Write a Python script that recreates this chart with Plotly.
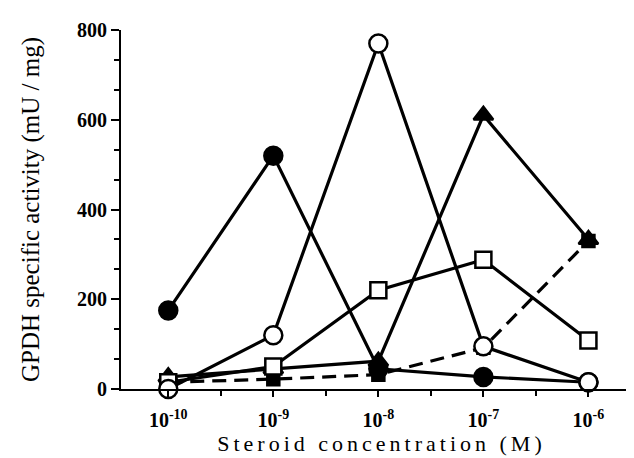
import plotly.graph_objects as go

# Data
conc = [1e-10, 1e-9, 1e-8, 1e-7, 1e-6]
tick_text = ["10<sup>-10</sup>", "10<sup>-9</sup>", "10<sup>-8</sup>", "10<sup>-7</sup>", "10<sup>-6</sup>"]
filled_square = [15, 22, 32, 92, 330]
filled_triangle = [27, 45, 62, 610, 333]
filled_circle = [175, 520, 45, 27, 15]
open_square = [15, 50, 220, 288, 108]
open_circle = [0, 120, 770, 95, 15]

half_decades = [3.1623e-10, 3.1623e-9, 3.1623e-8, 3.1623e-7]

FONT = "Liberation Serif"
LW = 3.2

fig = go.Figure()

def add(y, symbol, size, fill, dash="solid"):
    fig.add_trace(go.Scatter(
        x=conc, y=y, mode="lines+markers",
        line=dict(color="black", width=LW, dash=dash),
        marker=dict(symbol=symbol, size=size, color=fill,
                    line=dict(color="black", width=2.5)),
        cliponaxis=False, showlegend=False))

add(filled_square, "square", 12, "black", dash="14px,8px")
add(filled_triangle, "triangle-up", 17, "black")
add(filled_circle, "circle", 18, "black")
add(open_square, "square", 16, "white")
add(open_circle, "circle", 18, "white")

fig.update_layout(
    width=634, height=458,
    margin=dict(l=113, r=0, t=22, b=77),
    paper_bgcolor="white", plot_bgcolor="white",
    font=dict(family=FONT, color="black", size=20),
    xaxis=dict(
        type="log", range=[-10.45, -5.49],
        tickmode="array", tickvals=conc, ticktext=tick_text,
        showline=True, linecolor="black", linewidth=2,
        ticks="outside", ticklen=6, tickwidth=2, tickcolor="black",
        ticklabelstandoff=6,
        minor=dict(tickmode="array", tickvals=half_decades, ticks="outside",
                   ticklen=5, tickwidth=2, tickcolor="black"),
        showgrid=False, zeroline=False,
        tickfont=dict(family=FONT, size=20, weight="bold"),
        title=dict(text='<span style="letter-spacing:4px">Steroid concentration (M)</span>',
                   standoff=4, font=dict(family=FONT, size=22)),
    ),
    yaxis=dict(
        range=[0, 800], tickmode="linear", tick0=0, dtick=200,
        showline=True, linecolor="black", linewidth=2,
        ticks="outside", ticklen=8, tickwidth=2, tickcolor="black",
        minor=dict(dtick=200/3, tick0=0, ticks="outside", ticklen=5,
                   tickwidth=2, tickcolor="black"),
        showgrid=False, zeroline=False,
        tickfont=dict(family=FONT, size=20, weight="bold"),
        title=dict(text="GPDH specific activity (mU / mg)", standoff=30,
                   font=dict(family=FONT, size=25)),
    ),
)

fig.write_html("out.html")
